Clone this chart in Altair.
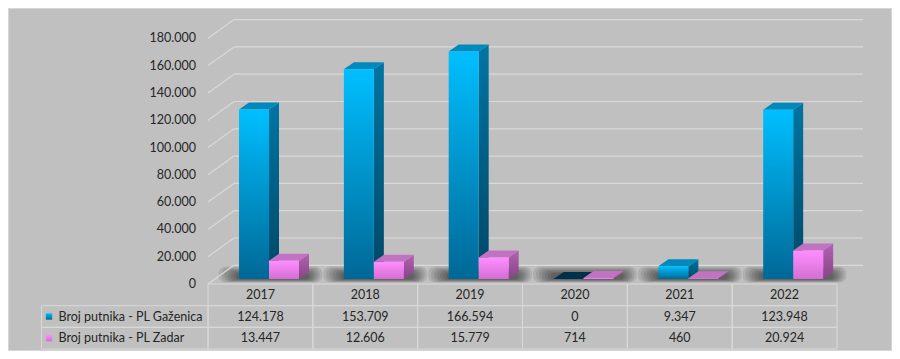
import altair as alt
import pandas as pd

# ---------------- data ----------------
years = ["2017", "2018", "2019", "2020", "2021", "2022"]
gazenica = [124178, 153709, 166594, 0, 9347, 123948]
zadar = [13447, 12606, 15779, 714, 460, 20924]
series_names = ["Broj putnika - PL Gaženica", "Broj putnika - PL Zadar"]
y_ticks = [0, 20000, 40000, 60000, 80000, 100000, 120000, 140000, 160000, 180000]

# ---------------- layout constants ----------------
W, H = 884, 343
COL_PX = 104.83            # pixels per category column
PX_PER_20K = 27.3
VAL_PER_PX = 20000 / PX_PER_20K


def px_x(p):
    return p / COL_PX


def px_v(p):
    return p * VAL_PER_PX


BAR_L = [0.296, 0.582]     # left edge of front face inside a column
BAR_W = 0.286
DX, DY = px_x(10), px_v(7)           # bar depth
BASE = px_v(5)                       # bars stand slightly behind the front edge
BACK_DX, BACK_DY = px_x(26), px_v(18.7)
HEAD_L = px_x(-166.5)
HEAD_SQ = px_x(-159)
HEAD_TXT = px_x(-149.5)
YLAB_X = px_x(-12)

FONT = "Lato"
TXT = "#262626"
GRID = "#D9D9D9"

xs = alt.Scale(domain=[0, 6], range=[200, 829], zero=False, nice=False)
ys = alt.Scale(domain=[0, 180000], range=[276, 276 - 9 * PX_PER_20K], zero=False, nice=False)
ts = alt.Scale(domain=[0, 3], range=[276, 341], zero=False, nice=False)


def fmt(v):
    return f"{v:,}".replace(",", ".")


def grad(c0, c1):
    return alt.LinearGradient(
        gradient="linear",
        stops=[alt.GradientStop(color=c0, offset=0), alt.GradientStop(color=c1, offset=1)],
        x1=0, x2=0, y1=0, y2=1,
    )


# ---------------- tables for marks ----------------
bars, sides, tops = [], [], []
for s, vals in enumerate([gazenica, zadar]):
    for i, v in enumerate(vals):
        xl = i + BAR_L[s]
        xr = xl + BAR_W
        top = v + BASE
        bid = f"{s}-{i}"
        bars.append(dict(s=s, id=bid, xl=xl, xr=xr, top=top, base=BASE, value=v))
        sides += [
            dict(s=s, id=bid, x=xr, y=top, y2=BASE),
            dict(s=s, id=bid, x=xr + DX, y=top + DY, y2=BASE + DY),
        ]
        tops += [
            dict(s=s, id=bid, value=v, x=xl, y=top, y2=top),
            dict(s=s, id=bid, value=v, x=xl + DX, y=top + DY, y2=top),
            dict(s=s, id=bid, value=v, x=xr, y=top + DY, y2=top),
            dict(s=s, id=bid, value=v, x=xr + DX, y=top + DY, y2=top + DY),
        ]
bars = pd.DataFrame(bars)
sides = pd.DataFrame(sides)
tops = pd.DataFrame(tops)

# soft shadow: several stacked translucent pills
SH_LEVELS = 7
shadows = []
for i in range(len(years)):
    for k in range(SH_LEVELS):
        f = k / (SH_LEVELS - 1)
        a = 0.10 + f * 0.17
        b = 1.09 - f * 0.13
        lo = px_v(1.5 + f * 3.0)
        hi = px_v(17.5 - f * 6.5)
        shadows.append(dict(lvl=k, x=i + a, x2=i + b, y=lo, y2=hi))
shadows = pd.DataFrame(shadows)

grid = pd.DataFrame([dict(v=t, y=t + BACK_DY, x=BACK_DX, x2=6 + BACK_DX) for t in y_ticks])
diag = pd.DataFrame(
    [r for t in y_ticks for r in (dict(v=t, x=0, y=t), dict(v=t, x=BACK_DX, y=t + BACK_DY))]
)
ylab = pd.DataFrame([dict(v=t, lab=fmt(t), x=YLAB_X) for t in y_ticks])

cells = []
for r in range(3):
    for c in range(len(years)):
        cells.append(dict(x=c, x2=c + 1, r=r, r2=r + 1))
for r in (1, 2):
    cells.append(dict(x=HEAD_L, x2=0, r=r, r2=r + 1))
cells = pd.DataFrame(cells)

texts = []
for c, yr in enumerate(years):
    texts.append(dict(x=c + 0.5, r=0.5, t=yr))
    texts.append(dict(x=c + 0.5, r=1.5, t=fmt(gazenica[c])))
    texts.append(dict(x=c + 0.5, r=2.5, t=fmt(zadar[c])))
texts = pd.DataFrame(texts)
heads = pd.DataFrame([dict(x=HEAD_TXT, xs=HEAD_SQ, r=k + 1.5, t=n, s=k) for k, n in enumerate(series_names)])

# ---------------- layers ----------------
X = lambda f: alt.X(f, type="quantitative", scale=xs, axis=None)
Y = lambda f: alt.Y(f, type="quantitative", scale=ys, axis=None)
T = lambda f: alt.Y(f, type="quantitative", scale=ts, axis=None)

shadow_l = alt.Chart(shadows).mark_rect(color="#000000", cornerRadius=7, opacity=0.09).encode(
    x=X("x"), x2="x2", y=Y("y"), y2="y2"
)
grid_l = alt.Chart(grid).mark_rule(color=GRID, strokeWidth=1.2).encode(x=X("x"), x2="x2", y=Y("y"))
diag_l = alt.Chart(diag).mark_line(color=GRID, strokeWidth=1.2).encode(x=X("x"), y=Y("y"), detail="v:N")
ylab_l = alt.Chart(ylab).mark_text(align="right", baseline="middle", font=FONT, fontSize=12.5, color=TXT).encode(
    x=X("x"), y=Y("v"), text="lab:N"
)

blue = dict(front=grad("#00BFFF", "#006896"), side=grad("#0075A3", "#004766"), top="#0089BC", zero="#00304A")
pink = dict(front=grad("#FF8EFF", "#D46ED4"), side=grad("#B262B2", "#874487"), top="#C272C2", zero="#C272C2")

layers = [shadow_l, grid_l, diag_l]
for s, col in enumerate([blue, pink]):
    layers.append(
        alt.Chart(sides[sides.s == s]).mark_area(orient="vertical", color=col["side"]).encode(
            x=X("x"), y=Y("y"), y2="y2", detail="id:N"
        )
    )
for s, col in enumerate([blue, pink]):
    layers.append(
        alt.Chart(tops[tops.s == s]).mark_area(orient="vertical").encode(
            x=X("x"), y=Y("y"), y2="y2", detail="id:N",
            color=alt.condition(alt.datum.value == 0, alt.value(col["zero"]), alt.value(col["top"])),
        )
    )
for s, col in enumerate([blue, pink]):
    layers.append(
        alt.Chart(bars[bars.s == s]).mark_rect(color=col["front"]).encode(
            x=X("xl"), x2="xr", y=Y("top"), y2="base"
        )
    )

table_l = alt.Chart(cells).mark_rect(fill=None, fillOpacity=0, stroke=GRID, strokeWidth=1).encode(
    x=X("x"), x2="x2", y=T("r"), y2="r2"
)
text_l = alt.Chart(texts).mark_text(baseline="middle", align="center", font=FONT, fontSize=12.5, color=TXT).encode(
    x=X("x"), y=T("r"), text="t:N"
)
head_l = alt.Chart(heads).mark_text(baseline="middle", align="left", font=FONT, fontSize=12.5, color=TXT).encode(
    x=X("x"), y=T("r"), text="t:N"
)
sq_blue = alt.Chart(heads[heads.s == 0]).mark_square(size=40, fill=blue["front"], opacity=1, strokeWidth=0).encode(
    x=X("xs"), y=T("r")
)
sq_pink = alt.Chart(heads[heads.s == 1]).mark_square(size=40, fill=pink["front"], opacity=1, strokeWidth=0).encode(
    x=X("xs"), y=T("r")
)

layers += [ylab_l, table_l, text_l, head_l, sq_blue, sq_pink]

chart = (
    alt.layer(*layers)
    .resolve_scale(y="independent")
    .properties(width=W, height=H, autosize=alt.AutoSizeParams(type="none"), padding=0, background="#C0C0C0")
    .configure_view(stroke="#D6D6D6", strokeWidth=2)
)

chart.save("out.html", embed_options={"renderer": "svg", "actions": False})
